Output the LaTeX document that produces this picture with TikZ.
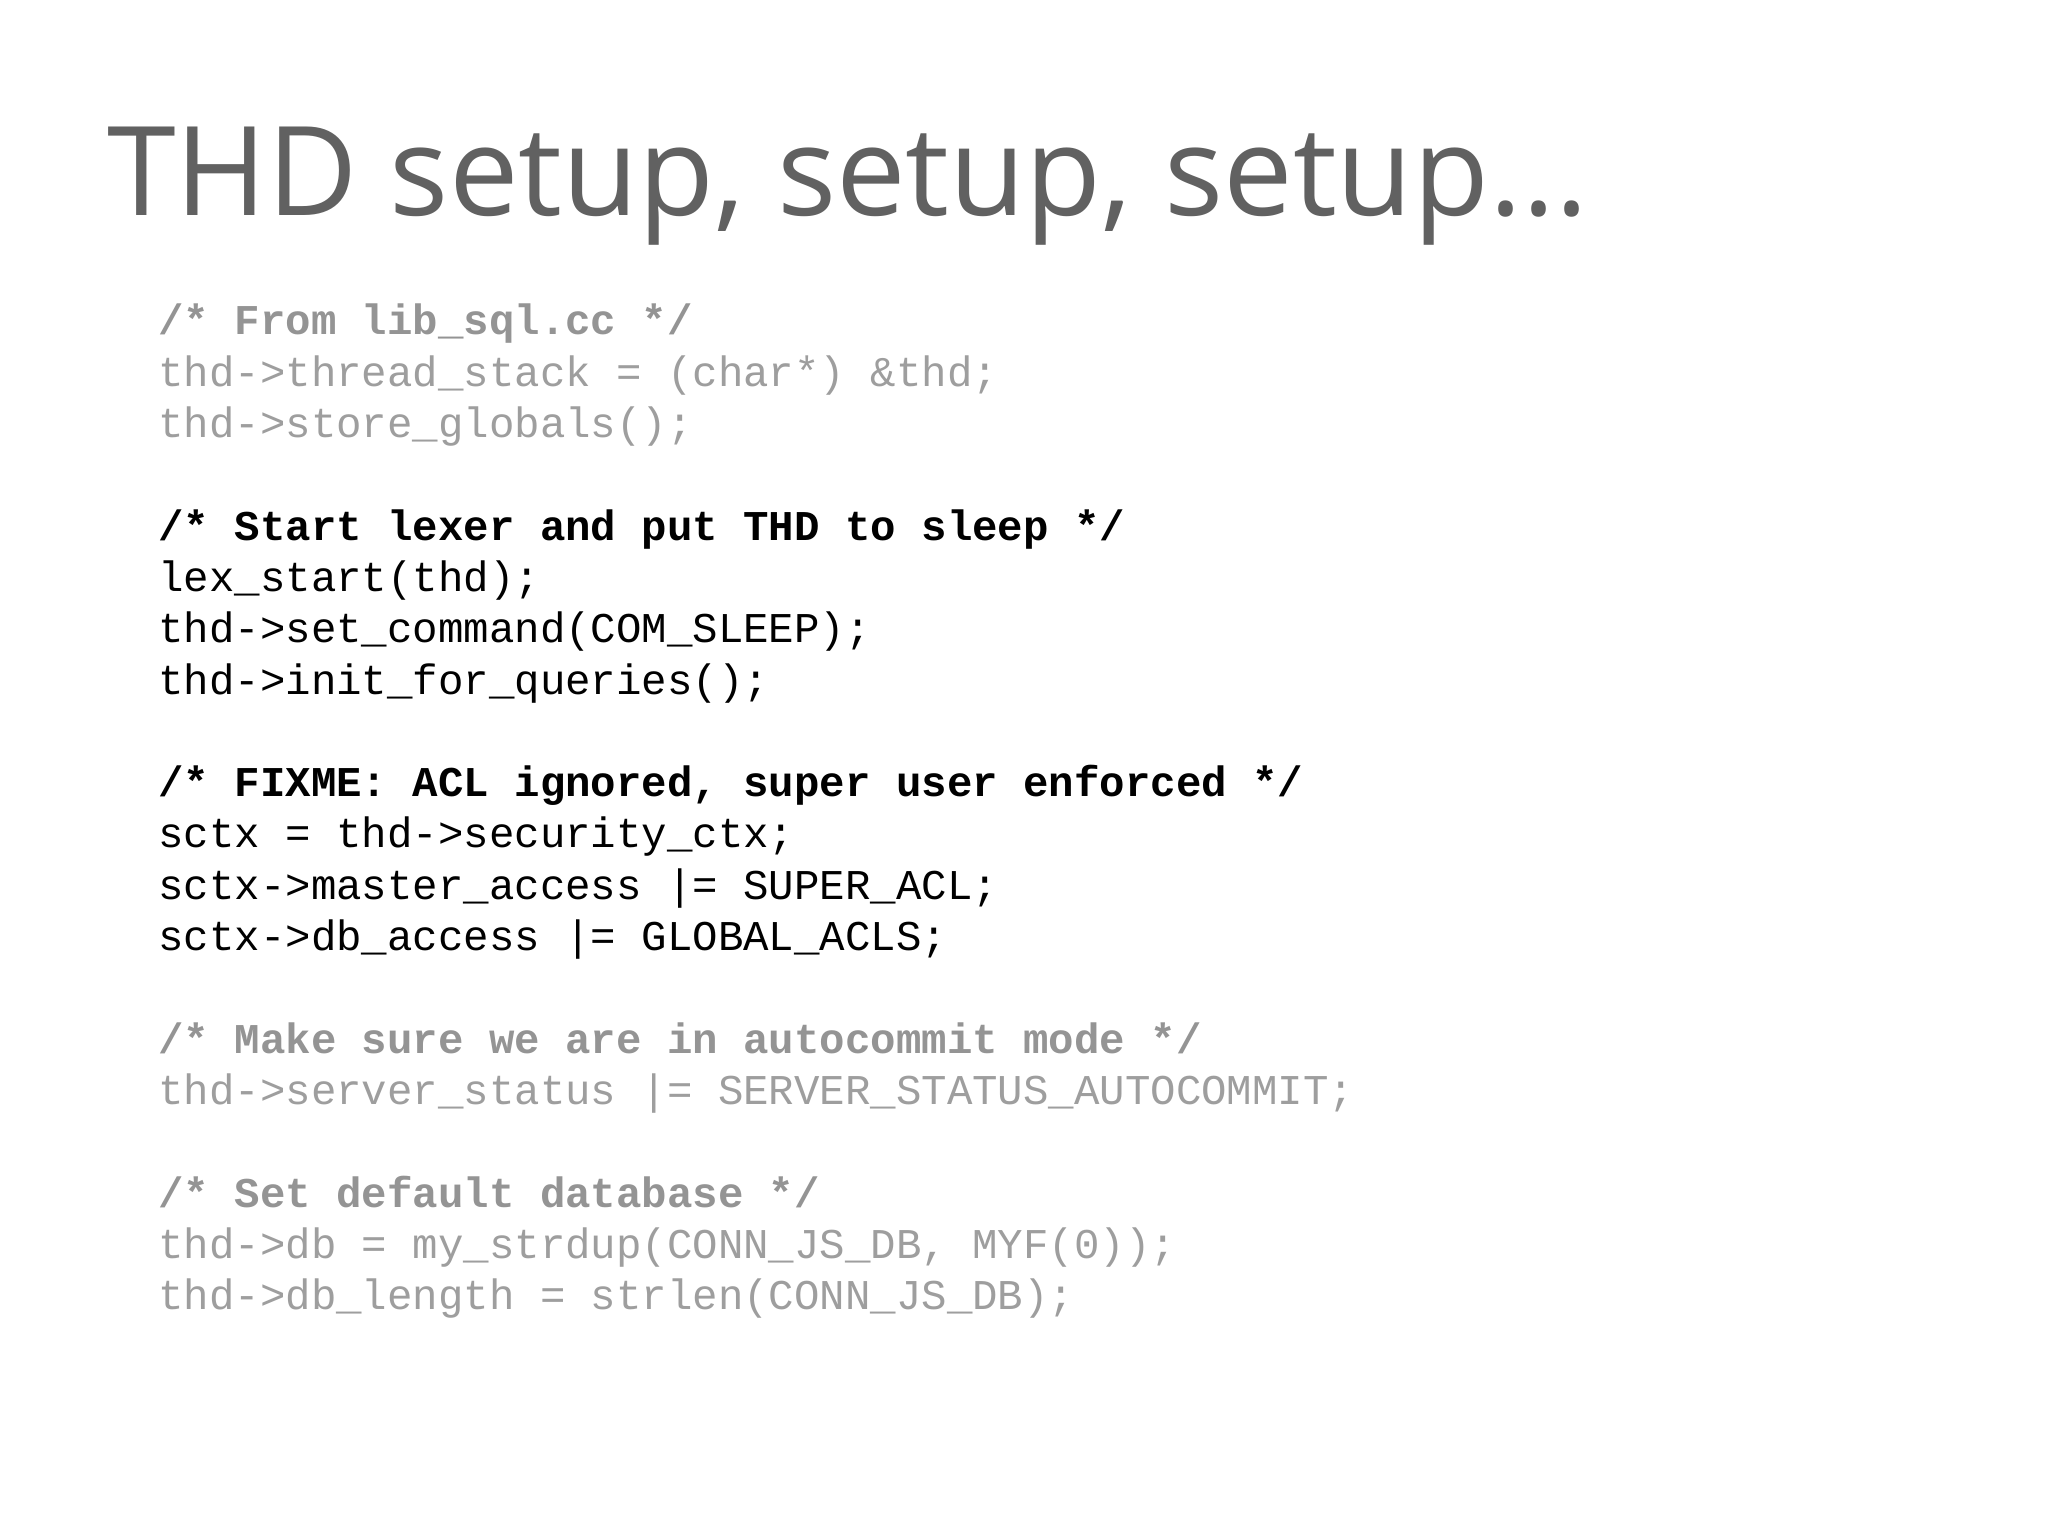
\documentclass[tikz,border=0pt]{standalone}
\usepackage{fontspec}
\setmainfont{Open Sans}
\newfontfamily\codefont{Liberation Mono}
\begin{document}
\begin{tikzpicture}[x=1pt,y=1pt,
  ln/.style={anchor=base west,inner sep=0pt,font=\codefont\fontsize{21.2}{25}\selectfont},
  gc/.style={ln,text=black!42,font=\codefont\bfseries\fontsize{21.2}{25}\selectfont},
  gl/.style={ln,text=black!38},
  bc/.style={ln,text=black,font=\codefont\bfseries\fontsize{21.2}{25}\selectfont},
  bl/.style={ln,text=black}]
\useasboundingbox[fill=white] (0,0) rectangle (1024,768);
\node[anchor=base west,inner sep=0pt,text=black!62,font=\fontsize{62}{70}\selectfont] (title) at (53.5,660) {THD setup, setup, setup...};
\def\L#1{(79,{600.5-25.65*#1})}
\node[gc] (l0) at \L{0} {/* From lib\_sql.cc */};
\node[gl] (l1) at \L{1} {thd->thread\_stack = (char*) \&thd;};
\node[gl] (l2) at \L{2} {thd->store\_globals();};
\node[bc] (l4) at \L{4} {/* Start lexer and put THD to sleep */};
\node[bl] (l5) at \L{5} {lex\_start(thd);};
\node[bl] (l6) at \L{6} {thd->set\_command(COM\_SLEEP);};
\node[bl] (l7) at \L{7} {thd->init\_for\_queries();};
\node[bc] (l9) at \L{9} {/* FIXME: ACL ignored, super user enforced */};
\node[bl] (l10) at \L{10} {sctx = thd->security\_ctx;};
\node[bl] (l11) at \L{11} {sctx->master\_access |= SUPER\_ACL;};
\node[bl] (l12) at \L{12} {sctx->db\_access |= GLOBAL\_ACLS;};
\node[gc] (l14) at \L{14} {/* Make sure we are in autocommit mode */};
\node[gl] (l15) at \L{15} {thd->server\_status |= SERVER\_STATUS\_AUTOCOMMIT;};
\node[gc] (l17) at \L{17} {/* Set default database */};
\node[gl] (l18) at \L{18} {thd->db = my\_strdup(CONN\_JS\_DB, MYF(0));};
\node[gl] (l19) at \L{19} {thd->db\_length = strlen(CONN\_JS\_DB);};
\end{tikzpicture}
\end{document}
